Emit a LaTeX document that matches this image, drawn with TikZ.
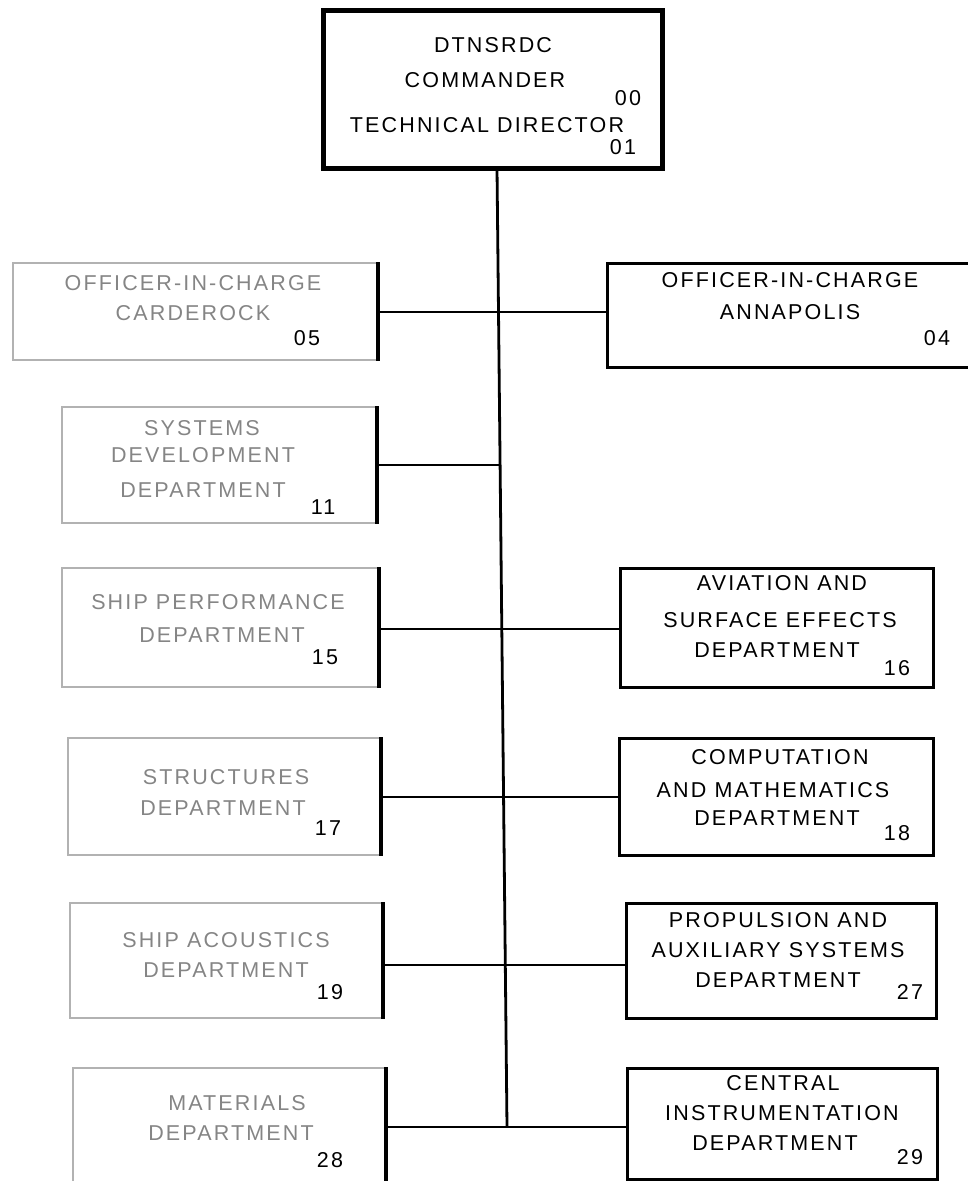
\documentclass[tikz,border=0pt]{standalone}
\usepackage{fontspec}
\newfontfamily\orgfont{Liberation Sans}[LetterSpace=10]
\newcommand\orgbox[6]{%
  \node[#2, minimum width={(#5-#3)*1pt}, minimum height={(#6-#4)*1pt}] (#1) at ({(#3+#5)/2},{(#4+#6)/2}) {};}
\tikzset{
  box/.style={draw=black, line width=3pt, inner sep=0pt, rectangle},
  topbox/.style={box, line width=5pt},
  fadedbox/.style={draw=black!30, line width=1.8pt, inner sep=0pt, rectangle},
  darkedge/.style={line width=3.2pt, black},
  lbl/.style={inner sep=0pt, text height=15pt, text depth=0pt,
    font=\orgfont\fontsize{21.5}{25}\selectfont},
  faded/.style={lbl, text=black!48},
  conn/.style={line width=2.8pt, black}
}
\begin{document}
\begin{tikzpicture}[x=1pt,y=-1pt]
\useasboundingbox (0,0) rectangle (968,1181);
\clip (0,0) rectangle (968,1181);
% boxes
\orgbox{top}{topbox}{323}{10}{662}{168}
\orgbox{carderock}{fadedbox}{13}{263}{377}{360}
\orgbox{annapolis}{box}{607}{263}{980}{367}
\orgbox{sysdev}{fadedbox}{62}{407}{376}{523}
\orgbox{shipperf}{fadedbox}{62}{568}{378}{687}
\orgbox{aviation}{box}{620}{568}{933}{687}
\orgbox{structures}{fadedbox}{68}{738}{380}{855}
\orgbox{computation}{box}{619}{738}{933}{855}
\orgbox{acoustics}{fadedbox}{70}{903}{382}{1018}
\orgbox{propulsion}{box}{626}{903}{936}{1018}
\orgbox{materials}{fadedbox}{73}{1068}{385}{1195}
\orgbox{central}{box}{627}{1068}{937}{1179}
% dark right edges of the faded boxes
\foreach \b in {carderock,sysdev,shipperf,structures,acoustics,materials}
  \draw[darkedge] (\b.north east) -- (\b.south east);
% trunk and junctions
\coordinate (tA) at (497,168);
\coordinate (tB) at (507,1127);
\coordinate (j1) at (498.5,312);
\coordinate (j2) at (500.1,465);
\coordinate (j3) at (501.8,629);
\coordinate (j4) at (503.6,797);
\coordinate (j5) at (505.3,965);
\coordinate (j6) at (507,1127);
\draw[conn] (tA) -- (tB);
\draw[conn] (carderock.east |- j1) -- (j1) -- (annapolis.west |- j1);
\draw[conn] (sysdev.east |- j2) -- (j2);
\draw[conn] (shipperf.east |- j3) -- (j3) -- (aviation.west |- j3);
\draw[conn] (structures.east |- j4) -- (j4) -- (computation.west |- j4);
\draw[conn] (acoustics.east |- j5) -- (j5) -- (propulsion.west |- j5);
\draw[conn] (materials.east |- j6) -- (j6) -- (central.west |- j6);
% top box texts
\node[lbl] (top-a) at (493,45) {DTNSRDC};
\node[lbl] (top-b) at (485,80) {COMMANDER};
\node[lbl] (top-n1) at (628,98) {00};
\node[lbl] (top-c) at (487,125) {TECHNICAL DIRECTOR};
\node[lbl] (top-n2) at (623,147) {01};
% Carderock
\node[faded] (carderock-a) at (193,283) {OFFICER-IN-CHARGE};
\node[faded] (carderock-b) at (193,313) {CARDEROCK};
\node[lbl] (carderock-n) at (307,338) {05};
% Annapolis
\node[lbl] (annapolis-a) at (790,280) {OFFICER-IN-CHARGE};
\node[lbl] (annapolis-b) at (790,312) {ANNAPOLIS};
\node[lbl] (annapolis-n) at (937,338) {04};
% Systems development
\node[faded] (sysdev-a) at (202,428) {SYSTEMS};
\node[faded] (sysdev-b) at (203,455) {DEVELOPMENT};
\node[faded] (sysdev-c) at (203,490) {DEPARTMENT};
\node[lbl] (sysdev-n) at (323,507) {11};
% Ship performance
\node[faded] (shipperf-a) at (218,602) {SHIP PERFORMANCE};
\node[faded] (shipperf-b) at (222,635) {DEPARTMENT};
\node[lbl] (shipperf-n) at (325,657) {15};
% Aviation
\node[lbl] (aviation-a) at (782,583) {AVIATION AND};
\node[lbl] (aviation-b) at (780,620) {SURFACE EFFECTS};
\node[lbl] (aviation-c) at (777,650) {DEPARTMENT};
\node[lbl] (aviation-n) at (897,668) {16};
% Structures
\node[faded] (structures-a) at (226,777) {STRUCTURES};
\node[faded] (structures-b) at (223,808) {DEPARTMENT};
\node[lbl] (structures-n) at (328,828) {17};
% Computation
\node[lbl] (computation-a) at (780,757) {COMPUTATION};
\node[lbl] (computation-b) at (773,790) {AND MATHEMATICS};
\node[lbl] (computation-c) at (777,818) {DEPARTMENT};
\node[lbl] (computation-n) at (897,833) {18};
% Ship acoustics
\node[faded] (acoustics-a) at (226,940) {SHIP ACOUSTICS};
\node[faded] (acoustics-b) at (226,970) {DEPARTMENT};
\node[lbl] (acoustics-n) at (330,992) {19};
% Propulsion
\node[lbl] (propulsion-a) at (778,920) {PROPULSION AND};
\node[lbl] (propulsion-b) at (778,950) {AUXILIARY SYSTEMS};
\node[lbl] (propulsion-c) at (778,980) {DEPARTMENT};
\node[lbl] (propulsion-n) at (910,992) {27};
% Materials
\node[faded] (materials-a) at (237,1103) {MATERIALS};
\node[faded] (materials-b) at (231,1133) {DEPARTMENT};
\node[lbl] (materials-n) at (330,1160) {28};
% Central instrumentation
\node[lbl] (central-a) at (783,1083) {CENTRAL};
\node[lbl] (central-b) at (782,1113) {INSTRUMENTATION};
\node[lbl] (central-c) at (775,1143) {DEPARTMENT};
\node[lbl] (central-n) at (910,1157) {29};
\end{tikzpicture}
\end{document}
